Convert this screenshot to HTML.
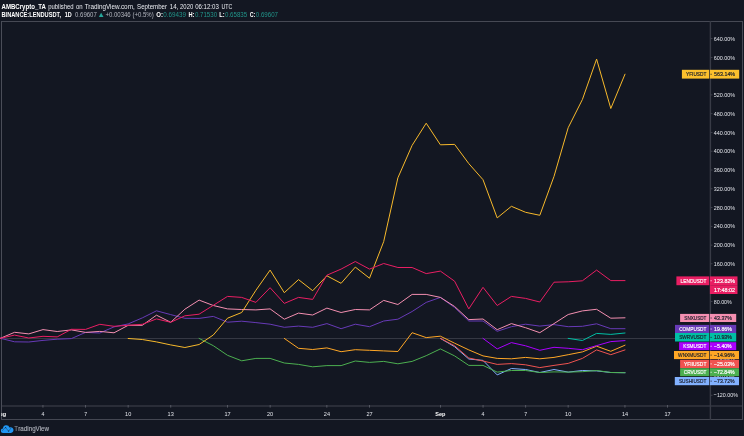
<!DOCTYPE html>
<html lang="en"><head><meta charset="utf-8"><title>BINANCE:LENDUSDT chart by AMBCrypto_TA</title>
<style>html,body{margin:0;padding:0;background:#131722;overflow:hidden}body{width:744px;height:436px;font-family:"Liberation Sans",Arial,sans-serif}svg{display:block}text{font-family:"Liberation Sans",Arial,sans-serif}</style></head><body>
<svg width="744" height="436" viewBox="0 0 744 436">
<rect x="0" y="0" width="744" height="436" fill="#131722"/>
<g id="header">
<g>
<text x="1.5" y="9.0" font-size="6.3" fill="#ffffff" textLength="44.5" lengthAdjust="spacingAndGlyphs" font-weight="700">AMBCrypto_TA</text>
<text x="48.2" y="9.0" font-size="6.3" fill="#e9ebf0" textLength="25.4" lengthAdjust="spacingAndGlyphs">published</text>
<text x="76.0" y="9.0" font-size="6.3" fill="#e9ebf0" textLength="6.7" lengthAdjust="spacingAndGlyphs">on</text>
<text x="84.7" y="9.0" font-size="6.3" fill="#e9ebf0" textLength="50.0" lengthAdjust="spacingAndGlyphs">TradingView.com,</text>
<text x="137.1" y="9.0" font-size="6.3" fill="#e9ebf0" textLength="29.9" lengthAdjust="spacingAndGlyphs">September</text>
<text x="169.8" y="9.0" font-size="6.3" fill="#e9ebf0" textLength="8.6" lengthAdjust="spacingAndGlyphs">14,</text>
<text x="180.1" y="9.0" font-size="6.3" fill="#e9ebf0" textLength="13.1" lengthAdjust="spacingAndGlyphs">2020</text>
<text x="195.2" y="9.0" font-size="6.3" fill="#e9ebf0" textLength="23.6" lengthAdjust="spacingAndGlyphs">06:12:03</text>
<text x="221.4" y="9.0" font-size="6.3" fill="#e9ebf0" textLength="10.8" lengthAdjust="spacingAndGlyphs">UTC</text>
</g>
<text x="1.5" y="17.0" font-size="6.3" fill="#ffffff" textLength="59.5" lengthAdjust="spacingAndGlyphs" font-weight="700">BINANCE:LENDUSDT,</text>
<text x="64.8" y="17.0" font-size="6.3" fill="#ffffff" textLength="7.0" lengthAdjust="spacingAndGlyphs" font-weight="700">1D</text>
<text x="75.0" y="17.0" font-size="6.3" fill="#b3b6bf" textLength="21.8" lengthAdjust="spacingAndGlyphs">0.69607</text>
<path d="M98.8 17 L103.5 17 L101.15 12.8 Z" fill="#26a69a"/>
<text x="105.4" y="17.0" font-size="6.3" fill="#b3b6bf" textLength="48.3" lengthAdjust="spacingAndGlyphs">+0.00346 (+0.5%)</text>
<text x="156.2" y="17.0" font-size="6.3" fill="#ffffff" textLength="6.7" lengthAdjust="spacingAndGlyphs" font-weight="700">O:</text>
<text x="163.2" y="17.0" font-size="6.3" fill="#22958a" textLength="22.7" lengthAdjust="spacingAndGlyphs">0.69439</text>
<text x="188.5" y="17.0" font-size="6.3" fill="#ffffff" textLength="6.0" lengthAdjust="spacingAndGlyphs" font-weight="700">H:</text>
<text x="194.9" y="17.0" font-size="6.3" fill="#22958a" textLength="22.2" lengthAdjust="spacingAndGlyphs">0.71530</text>
<text x="219.2" y="17.0" font-size="6.3" fill="#ffffff" textLength="5.4" lengthAdjust="spacingAndGlyphs" font-weight="700">L:</text>
<text x="225.0" y="17.0" font-size="6.3" fill="#22958a" textLength="22.2" lengthAdjust="spacingAndGlyphs">0.65835</text>
<text x="249.8" y="17.0" font-size="6.3" fill="#ffffff" textLength="5.6" lengthAdjust="spacingAndGlyphs" font-weight="700">C:</text>
<text x="255.8" y="17.0" font-size="6.3" fill="#22958a" textLength="22.2" lengthAdjust="spacingAndGlyphs">0.69607</text>
</g>
<g id="frame" fill="#4a4d58">
<rect x="1" y="405" width="742" height="2" fill="#2a2d38"/>
<rect x="1" y="21" width="742" height="1" fill="#464954"/>
<rect x="1" y="21" width="1" height="399"/>
<rect x="742" y="21" width="1" height="399" fill="#464954"/>
<rect x="1" y="419" width="742" height="1" fill="#444752"/>
<rect x="709.7" y="21" width="1.4" height="399" fill="#383b46"/>
</g>
<rect x="2" y="338" width="707.6" height="1" fill="#353843"/>
<g id="series" fill="none" stroke-width="1" stroke-linejoin="round" stroke-linecap="round">
<polyline stroke="#82b1ff" points="440.4,338.4 454.6,346.7 468.8,359.0 483.0,360.4 497.2,374.9 511.4,368.5 525.6,369.5 539.8,372.5 554.0,369.5 568.2,372.1 582.4,370.5 596.6,370.9 610.8,372.5 625.0,372.7"/>
<polyline stroke="#4caf50" points="199.1,338.4 213.3,345.7 227.5,355.3 241.7,360.8 255.9,358.4 270.1,358.4 284.3,363.0 298.5,364.4 312.7,366.8 326.9,365.6 341.1,365.6 355.3,361.0 369.5,362.4 383.7,361.4 397.9,363.8 412.1,361.4 426.2,355.7 440.4,348.9 454.6,355.9 468.8,365.4 483.0,365.4 497.2,372.1 511.4,370.5 525.6,370.5 539.8,372.5 554.0,371.9 568.2,372.1 582.4,371.7 596.6,370.5 610.8,372.5 625.0,372.7"/>
<polyline stroke="#ef5350" points="440.4,338.4 454.6,345.8 468.8,358.0 483.0,361.0 497.2,364.4 511.4,363.6 525.6,364.8 539.8,367.6 554.0,365.4 568.2,363.4 582.4,358.4 596.6,349.9 610.8,354.7 625.0,349.9"/>
<polyline stroke="#ffa726" points="284.3,338.4 298.5,348.3 312.7,349.5 326.9,347.9 341.1,351.7 355.3,349.7 369.5,350.3 383.7,350.9 397.9,351.5 412.1,332.7 426.2,337.6 440.4,336.2 454.6,343.2 468.8,349.9 483.0,355.9 497.2,358.4 511.4,358.8 525.6,357.4 539.8,358.8 554.0,357.4 568.2,354.7 582.4,351.9 596.6,346.2 610.8,351.3 625.0,345.2"/>
<polyline stroke="#aa00ff" points="483.0,338.4 497.2,348.9 511.4,342.6 525.6,345.8 539.8,350.3 554.0,347.3 568.2,348.3 582.4,349.7 596.6,345.6 610.8,341.6 625.0,340.6"/>
<polyline stroke="#00bfa5" points="568.2,338.4 582.4,340.5 596.6,333.4 610.8,334.4 625.0,333.0"/>
<polyline stroke="#673ab7" points="0.4,338.3 14.6,341.8 28.8,342.0 43.0,340.4 57.2,339.2 71.4,338.6 85.6,332.4 99.8,333.0 114.0,326.9 128.2,323.9 142.3,317.9 156.5,310.8 170.7,314.6 184.9,318.3 199.1,318.4 213.3,316.4 227.5,322.2 241.7,321.2 255.9,322.6 270.1,324.2 284.3,327.3 298.5,326.1 312.7,327.3 326.9,323.6 341.1,328.7 355.3,324.2 369.5,326.7 383.7,321.0 397.9,319.2 412.1,311.5 426.2,302.4 440.4,297.4 454.6,307.5 468.8,321.0 483.0,321.0 497.2,331.3 511.4,326.7 525.6,324.2 539.8,326.1 554.0,324.6 568.2,326.7 582.4,326.3 596.6,323.8 610.8,328.7 625.0,328.7"/>
<polyline stroke="#f48fb1" points="0.4,338.3 14.6,332.3 28.8,333.9 43.0,329.6 57.2,331.5 71.4,329.9 85.6,332.4 99.8,331.4 114.0,332.8 128.2,325.3 142.3,325.3 156.5,315.2 170.7,322.3 184.9,309.2 199.1,300.1 213.3,305.5 227.5,308.9 241.7,309.5 255.9,309.9 270.1,308.9 284.3,319.2 298.5,313.1 312.7,315.0 326.9,308.1 341.1,312.5 355.3,309.5 369.5,309.9 383.7,300.4 397.9,304.5 412.1,294.4 426.2,294.4 440.4,297.4 454.6,306.5 468.8,319.6 483.0,319.0 497.2,329.7 511.4,323.6 525.6,327.7 539.8,332.7 554.0,323.6 568.2,314.5 582.4,310.9 596.6,309.3 610.8,318.2 625.0,317.8"/>
<polyline stroke="#f7b92b" points="128.2,338.5 142.3,339.5 156.5,341.9 170.7,344.9 184.9,347.5 199.1,344.5 213.3,335.0 227.5,318.2 241.7,312.5 255.9,290.3 270.1,270.1 284.3,292.7 298.5,279.6 312.7,290.7 326.9,275.8 341.1,283.3 355.3,267.1 369.5,278.2 383.7,241.6 397.9,177.8 412.1,145.4 426.2,123.2 440.4,144.8 454.6,144.4 468.8,163.6 483.0,179.7 497.2,217.9 511.4,206.3 525.6,212.3 539.8,215.3 554.0,176.4 568.2,127.7 582.4,99.5 596.6,59.1 610.8,108.5 625.0,74.2"/>
<polyline stroke="#e91e63" points="0.4,338.3 14.6,335.1 28.8,338.0 43.0,336.3 57.2,336.9 71.4,329.3 85.6,329.4 99.8,324.3 114.0,326.3 128.2,325.3 142.3,324.3 156.5,318.9 170.7,322.3 184.9,315.8 199.1,314.2 213.3,305.3 227.5,296.4 241.7,297.4 255.9,302.4 270.1,287.7 284.3,303.4 298.5,297.4 312.7,299.4 326.9,275.2 341.1,269.1 355.3,261.5 369.5,269.1 383.7,263.5 397.9,267.5 412.1,267.5 426.2,273.6 440.4,271.1 454.6,281.2 468.8,308.9 483.0,287.3 497.2,305.5 511.4,296.4 525.6,298.4 539.8,302.0 554.0,282.2 568.2,281.8 582.4,280.8 596.6,270.1 610.8,280.6 625.0,280.6"/>
</g>
<g id="paxis">
<rect x="710.5" y="38.2" width="2" height="0.8" fill="#454853"/>
<text x="713.8" y="40.7" font-size="6.1" fill="#e2e4ea" textLength="21.3" lengthAdjust="spacingAndGlyphs">640.00%</text>
<rect x="710.5" y="57.0" width="2" height="0.8" fill="#454853"/>
<text x="713.8" y="59.5" font-size="6.1" fill="#e2e4ea" textLength="21.3" lengthAdjust="spacingAndGlyphs">600.00%</text>
<rect x="710.5" y="75.7" width="2" height="0.8" fill="#454853"/>
<text x="713.8" y="78.2" font-size="6.1" fill="#e2e4ea" textLength="21.3" lengthAdjust="spacingAndGlyphs">560.00%</text>
<rect x="710.5" y="94.5" width="2" height="0.8" fill="#454853"/>
<text x="713.8" y="97.0" font-size="6.1" fill="#e2e4ea" textLength="21.3" lengthAdjust="spacingAndGlyphs">520.00%</text>
<rect x="710.5" y="113.3" width="2" height="0.8" fill="#454853"/>
<text x="713.8" y="115.8" font-size="6.1" fill="#e2e4ea" textLength="21.3" lengthAdjust="spacingAndGlyphs">480.00%</text>
<rect x="710.5" y="132.1" width="2" height="0.8" fill="#454853"/>
<text x="713.8" y="134.6" font-size="6.1" fill="#e2e4ea" textLength="21.3" lengthAdjust="spacingAndGlyphs">440.00%</text>
<rect x="710.5" y="150.8" width="2" height="0.8" fill="#454853"/>
<text x="713.8" y="153.3" font-size="6.1" fill="#e2e4ea" textLength="21.3" lengthAdjust="spacingAndGlyphs">400.00%</text>
<rect x="710.5" y="169.6" width="2" height="0.8" fill="#454853"/>
<text x="713.8" y="172.1" font-size="6.1" fill="#e2e4ea" textLength="21.3" lengthAdjust="spacingAndGlyphs">360.00%</text>
<rect x="710.5" y="188.4" width="2" height="0.8" fill="#454853"/>
<text x="713.8" y="190.9" font-size="6.1" fill="#e2e4ea" textLength="21.3" lengthAdjust="spacingAndGlyphs">320.00%</text>
<rect x="710.5" y="207.1" width="2" height="0.8" fill="#454853"/>
<text x="713.8" y="209.6" font-size="6.1" fill="#e2e4ea" textLength="21.3" lengthAdjust="spacingAndGlyphs">280.00%</text>
<rect x="710.5" y="225.9" width="2" height="0.8" fill="#454853"/>
<text x="713.8" y="228.4" font-size="6.1" fill="#e2e4ea" textLength="21.3" lengthAdjust="spacingAndGlyphs">240.00%</text>
<rect x="710.5" y="244.7" width="2" height="0.8" fill="#454853"/>
<text x="713.8" y="247.2" font-size="6.1" fill="#e2e4ea" textLength="21.3" lengthAdjust="spacingAndGlyphs">200.00%</text>
<rect x="710.5" y="263.4" width="2" height="0.8" fill="#454853"/>
<text x="713.8" y="265.9" font-size="6.1" fill="#e2e4ea" textLength="21.3" lengthAdjust="spacingAndGlyphs">160.00%</text>
<rect x="710.5" y="282.2" width="2" height="0.8" fill="#454853"/>
<text x="713.8" y="284.7" font-size="6.1" fill="#e2e4ea" textLength="21.3" lengthAdjust="spacingAndGlyphs">120.00%</text>
<rect x="710.5" y="301.0" width="2" height="0.8" fill="#454853"/>
<text x="713.8" y="303.5" font-size="6.1" fill="#e2e4ea" textLength="18.0" lengthAdjust="spacingAndGlyphs">80.00%</text>
<rect x="710.5" y="319.7" width="2" height="0.8" fill="#454853"/>
<text x="713.8" y="322.2" font-size="6.1" fill="#e2e4ea" textLength="18.0" lengthAdjust="spacingAndGlyphs">40.00%</text>
<rect x="710.5" y="338.5" width="2" height="0.8" fill="#454853"/>
<text x="713.8" y="341.0" font-size="6.1" fill="#e2e4ea" textLength="14.7" lengthAdjust="spacingAndGlyphs">0.00%</text>
<rect x="710.5" y="357.3" width="2" height="0.8" fill="#454853"/>
<text x="713.8" y="359.8" font-size="6.1" fill="#e2e4ea" textLength="20.8" lengthAdjust="spacingAndGlyphs">−40.00%</text>
<rect x="710.5" y="376.0" width="2" height="0.8" fill="#454853"/>
<text x="713.8" y="378.5" font-size="6.1" fill="#e2e4ea" textLength="20.8" lengthAdjust="spacingAndGlyphs">−80.00%</text>
<rect x="710.5" y="394.8" width="2" height="0.8" fill="#454853"/>
<text x="713.8" y="397.3" font-size="6.1" fill="#e2e4ea" textLength="24.1" lengthAdjust="spacingAndGlyphs">−120.00%</text>
</g>
<g id="taxis">
<rect x="42.5" y="405" width="0.9" height="2.6" fill="#5a5d68"/>
<text x="43.0" y="415.5" font-size="6.0" fill="#e2e4ea" textLength="2.9" lengthAdjust="spacingAndGlyphs" text-anchor="middle">4</text>
<rect x="85.1" y="405" width="0.9" height="2.6" fill="#5a5d68"/>
<text x="85.6" y="415.5" font-size="6.0" fill="#e2e4ea" textLength="2.9" lengthAdjust="spacingAndGlyphs" text-anchor="middle">7</text>
<rect x="127.7" y="405" width="0.9" height="2.6" fill="#5a5d68"/>
<text x="128.2" y="415.5" font-size="6.0" fill="#e2e4ea" textLength="6.2" lengthAdjust="spacingAndGlyphs" text-anchor="middle">10</text>
<rect x="170.3" y="405" width="0.9" height="2.6" fill="#5a5d68"/>
<text x="170.7" y="415.5" font-size="6.0" fill="#e2e4ea" textLength="6.2" lengthAdjust="spacingAndGlyphs" text-anchor="middle">13</text>
<rect x="227.1" y="405" width="0.9" height="2.6" fill="#5a5d68"/>
<text x="227.5" y="415.5" font-size="6.0" fill="#e2e4ea" textLength="6.2" lengthAdjust="spacingAndGlyphs" text-anchor="middle">17</text>
<rect x="269.7" y="405" width="0.9" height="2.6" fill="#5a5d68"/>
<text x="270.1" y="415.5" font-size="6.0" fill="#e2e4ea" textLength="6.2" lengthAdjust="spacingAndGlyphs" text-anchor="middle">20</text>
<rect x="326.4" y="405" width="0.9" height="2.6" fill="#5a5d68"/>
<text x="326.9" y="415.5" font-size="6.0" fill="#e2e4ea" textLength="6.2" lengthAdjust="spacingAndGlyphs" text-anchor="middle">24</text>
<rect x="369.0" y="405" width="0.9" height="2.6" fill="#5a5d68"/>
<text x="369.5" y="415.5" font-size="6.0" fill="#e2e4ea" textLength="6.2" lengthAdjust="spacingAndGlyphs" text-anchor="middle">27</text>
<rect x="440.0" y="405" width="0.9" height="2.6" fill="#5a5d68"/>
<text x="440.4" y="415.5" font-size="6.0" fill="#ffffff" textLength="10.2" lengthAdjust="spacingAndGlyphs" font-weight="700" text-anchor="middle">Sep</text>
<rect x="482.6" y="405" width="0.9" height="2.6" fill="#5a5d68"/>
<text x="483.0" y="415.5" font-size="6.0" fill="#e2e4ea" textLength="2.9" lengthAdjust="spacingAndGlyphs" text-anchor="middle">4</text>
<rect x="525.2" y="405" width="0.9" height="2.6" fill="#5a5d68"/>
<text x="525.6" y="415.5" font-size="6.0" fill="#e2e4ea" textLength="2.9" lengthAdjust="spacingAndGlyphs" text-anchor="middle">7</text>
<rect x="567.7" y="405" width="0.9" height="2.6" fill="#5a5d68"/>
<text x="568.2" y="415.5" font-size="6.0" fill="#e2e4ea" textLength="6.2" lengthAdjust="spacingAndGlyphs" text-anchor="middle">10</text>
<rect x="624.5" y="405" width="0.9" height="2.6" fill="#5a5d68"/>
<text x="625.0" y="415.5" font-size="6.0" fill="#e2e4ea" textLength="6.2" lengthAdjust="spacingAndGlyphs" text-anchor="middle">14</text>
<rect x="667.1" y="405" width="0.9" height="2.6" fill="#5a5d68"/>
<text x="667.6" y="415.5" font-size="6.0" fill="#e2e4ea" textLength="6.2" lengthAdjust="spacingAndGlyphs" text-anchor="middle">17</text>
<clipPath id="cl"><rect x="1.2" y="407" width="30" height="12"/></clipPath>
<g clip-path="url(#cl)"><text x="0.4" y="415.5" font-size="6.0" fill="#ffffff" textLength="11.6" lengthAdjust="spacingAndGlyphs" font-weight="700" text-anchor="middle">Aug</text></g>
</g>
<g id="labels">
<rect x="681.9" y="69.8" width="27.3" height="8.8" fill="#fbc02d"/>
<rect x="709.9" y="69.8" width="29.3" height="8.8" fill="#fbc02d"/>
<text x="686.0" y="76.4" font-size="6.0" fill="#1b1e29" textLength="20.4" lengthAdjust="spacingAndGlyphs" stroke="#1b1e29" stroke-width="0.18">YFIUSDT</text>
<rect x="710.4" y="73.8" width="1.5" height="0.8" fill="#1b1e29" opacity="0.8"/>
<text x="714.1" y="76.4" font-size="6.0" fill="#1b1e29" textLength="21.0" lengthAdjust="spacingAndGlyphs" stroke="#1b1e29" stroke-width="0.18">563.14%</text>
<rect x="676.4" y="276.4" width="32.8" height="8.8" fill="#e91e63"/>
<rect x="709.9" y="276.4" width="27.6" height="8.8" fill="#e91e63"/>
<text x="680.6" y="282.9" font-size="6.0" fill="#ffffff" textLength="25.8" lengthAdjust="spacingAndGlyphs" stroke="#ffffff" stroke-width="0.18">LENDUSDT</text>
<rect x="710.4" y="280.4" width="1.5" height="0.8" fill="#ffffff" opacity="0.8"/>
<text x="714.1" y="282.9" font-size="6.0" fill="#ffffff" textLength="21.0" lengthAdjust="spacingAndGlyphs" stroke="#ffffff" stroke-width="0.18">123.82%</text>
<rect x="680.1" y="313.9" width="29.1" height="8.1" fill="#f48fb1"/>
<rect x="709.9" y="313.9" width="26.3" height="8.1" fill="#f48fb1"/>
<text x="684.3" y="320.1" font-size="6.0" fill="#1b1e29" textLength="22.1" lengthAdjust="spacingAndGlyphs" stroke="#1b1e29" stroke-width="0.18">SNXUSDT</text>
<rect x="710.4" y="317.6" width="1.5" height="0.8" fill="#1b1e29" opacity="0.8"/>
<text x="714.1" y="320.1" font-size="6.0" fill="#1b1e29" textLength="17.8" lengthAdjust="spacingAndGlyphs" stroke="#1b1e29" stroke-width="0.18">43.37%</text>
<rect x="675.0" y="324.9" width="34.2" height="8.1" fill="#673ab7"/>
<rect x="709.9" y="324.9" width="26.3" height="8.1" fill="#673ab7"/>
<text x="679.2" y="331.1" font-size="6.0" fill="#ffffff" textLength="27.2" lengthAdjust="spacingAndGlyphs" stroke="#ffffff" stroke-width="0.18">COMPUSDT</text>
<rect x="710.4" y="328.6" width="1.5" height="0.8" fill="#ffffff" opacity="0.8"/>
<text x="714.1" y="331.1" font-size="6.0" fill="#ffffff" textLength="17.8" lengthAdjust="spacingAndGlyphs" stroke="#ffffff" stroke-width="0.18">19.86%</text>
<rect x="675.0" y="333.0" width="34.2" height="8.5" fill="#00bfa5"/>
<rect x="709.9" y="333.0" width="26.3" height="8.5" fill="#00bfa5"/>
<text x="679.2" y="339.4" font-size="6.0" fill="#1b1e29" textLength="27.2" lengthAdjust="spacingAndGlyphs" stroke="#1b1e29" stroke-width="0.18">SWRVUSDT</text>
<rect x="710.4" y="336.9" width="1.5" height="0.8" fill="#1b1e29" opacity="0.8"/>
<text x="714.1" y="339.4" font-size="6.0" fill="#1b1e29" textLength="17.8" lengthAdjust="spacingAndGlyphs" stroke="#1b1e29" stroke-width="0.18">10.93%</text>
<rect x="679.1" y="342.2" width="30.1" height="7.9" fill="#aa00ff"/>
<rect x="709.9" y="342.2" width="26.3" height="7.9" fill="#aa00ff"/>
<text x="683.3" y="348.3" font-size="6.0" fill="#ffffff" textLength="23.1" lengthAdjust="spacingAndGlyphs" stroke="#ffffff" stroke-width="0.18">KSMUSDT</text>
<rect x="710.4" y="345.8" width="1.5" height="0.8" fill="#ffffff" opacity="0.8"/>
<text x="714.1" y="348.3" font-size="6.0" fill="#ffffff" textLength="17.6" lengthAdjust="spacingAndGlyphs" stroke="#ffffff" stroke-width="0.18">−5.40%</text>
<rect x="674.0" y="351.0" width="35.2" height="8.1" fill="#ffa726"/>
<rect x="709.9" y="351.0" width="29.1" height="8.1" fill="#ffa726"/>
<text x="678.1" y="357.2" font-size="6.0" fill="#1b1e29" textLength="28.3" lengthAdjust="spacingAndGlyphs" stroke="#1b1e29" stroke-width="0.18">WNXMUSDT</text>
<rect x="710.4" y="354.7" width="1.5" height="0.8" fill="#1b1e29" opacity="0.8"/>
<text x="714.1" y="357.2" font-size="6.0" fill="#1b1e29" textLength="20.6" lengthAdjust="spacingAndGlyphs" stroke="#1b1e29" stroke-width="0.18">−14.96%</text>
<rect x="680.1" y="359.8" width="29.1" height="8.2" fill="#ef5350"/>
<rect x="709.9" y="359.8" width="29.1" height="8.2" fill="#ef5350"/>
<text x="684.1" y="366.1" font-size="6.0" fill="#ffffff" textLength="22.3" lengthAdjust="spacingAndGlyphs" stroke="#ffffff" stroke-width="0.18">YFIIUSDT</text>
<rect x="710.4" y="363.5" width="1.5" height="0.8" fill="#ffffff" opacity="0.8"/>
<text x="714.1" y="366.1" font-size="6.0" fill="#ffffff" textLength="20.6" lengthAdjust="spacingAndGlyphs" stroke="#ffffff" stroke-width="0.18">−25.03%</text>
<rect x="680.1" y="368.2" width="29.1" height="8.0" fill="#4caf50"/>
<rect x="709.9" y="368.2" width="29.1" height="8.0" fill="#4caf50"/>
<text x="683.8" y="374.3" font-size="6.0" fill="#ffffff" textLength="22.6" lengthAdjust="spacingAndGlyphs" stroke="#ffffff" stroke-width="0.18">CRVUSDT</text>
<rect x="710.4" y="371.8" width="1.5" height="0.8" fill="#ffffff" opacity="0.8"/>
<text x="714.1" y="374.3" font-size="6.0" fill="#ffffff" textLength="20.6" lengthAdjust="spacingAndGlyphs" stroke="#ffffff" stroke-width="0.18">−72.84%</text>
<rect x="674.8" y="377.0" width="34.4" height="8.2" fill="#82b1ff"/>
<rect x="709.9" y="377.0" width="29.1" height="8.2" fill="#82b1ff"/>
<text x="678.9" y="383.2" font-size="6.0" fill="#1b1e29" textLength="27.5" lengthAdjust="spacingAndGlyphs" stroke="#1b1e29" stroke-width="0.18">SUSHIUSDT</text>
<rect x="710.4" y="380.7" width="1.5" height="0.8" fill="#1b1e29" opacity="0.8"/>
<text x="714.1" y="383.2" font-size="6.0" fill="#1b1e29" textLength="20.6" lengthAdjust="spacingAndGlyphs" stroke="#1b1e29" stroke-width="0.18">−73.72%</text>
<rect x="709.9" y="285.2" width="27.6" height="8.8" fill="#e91e63"/>
<text x="714.1" y="291.7" font-size="6.0" fill="#ffffff" textLength="21.0" lengthAdjust="spacingAndGlyphs" stroke="#ffffff" stroke-width="0.18">17:48:02</text>
</g>
<g id="logo">
<path d="M3.1 432.9 A2.25 2.25 0 0 1 3.0 428.4 A3.3 3.3 0 0 1 9.45 427.6 A2.8 2.8 0 1 1 10.9 432.9 Z" fill="#2196f3"/>
<path d="M2.0 430.8 L5.6 427.4 L8.6 431.3 L11.2 427.7" fill="none" stroke="#131722" stroke-width="0.6" opacity="0.6"/>
<text x="14.4" y="431.0" font-size="6.6" fill="#858892" textLength="3.3" lengthAdjust="spacingAndGlyphs" stroke="#858892" stroke-width="0.15">T</text>
<text x="18.3" y="431.0" font-size="6.6" fill="#b0b3bc" textLength="30.7" lengthAdjust="spacingAndGlyphs" stroke="#b0b3bc" stroke-width="0.12">radingView</text>
<circle cx="5.65" cy="427.6" r="0.55" fill="#131722" opacity="0.8"/><circle cx="8.65" cy="431.1" r="0.55" fill="#131722" opacity="0.8"/>
</g>
</svg></body></html>
